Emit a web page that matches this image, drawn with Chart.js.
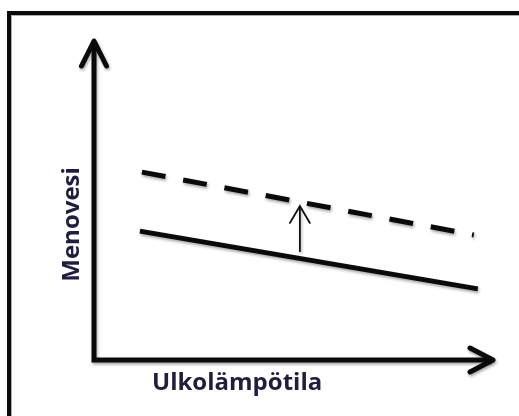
<!DOCTYPE html>
<html>
<head>
<meta charset="utf-8">
<script src="https://cdn.jsdelivr.net/npm/chart.js@4"></script>
<style>
  html, body { margin: 0; padding: 0; background: #ffffff; }
  #wrap { width: 519px; height: 416px; position: relative; }
</style>
</head>
<body>
<div id="wrap"><canvas id="c" width="519" height="416"></canvas></div>
<script>
// ---- data (conceptual heating curve chart) ----
const xLimits = [0, 100];          // outdoor temperature axis range (arbitrary units)
const yLimits = [0, 100];          // supply water axis range (arbitrary units)
const baseX   = [11.5, 96.2];      // solid heating curve
const baseY   = [40.4, 22.3];
const raisedX = [12.0, 95.2];      // dashed raised heating curve
const raisedY = [58.9, 39.2];
const shiftX  = [51.6, 51.6];      // small arrow showing the shift
const shiftY  = [33.9, 48.3];
const xTitle  = 'Ulkolämpötila';
const yTitle  = 'Menovesi';

const toPts = (xs, ys) => xs.map((x, i) => ({ x: x, y: ys[i] }));

function chevron(ctx, tipX, tipY, dirX, dirY, back, half) {
  // open arrowhead pointing in direction (dirX, dirY)
  const px = -dirY, py = dirX;
  ctx.beginPath();
  ctx.moveTo(tipX - dirX * back + px * half, tipY - dirY * back + py * half);
  ctx.lineTo(tipX, tipY);
  ctx.lineTo(tipX - dirX * back - px * half, tipY - dirY * back - py * half);
  ctx.stroke();
}

const decor = {
  id: 'decor',
  beforeDraw(chart) {
    const ctx = chart.ctx;
    ctx.save();
    ctx.fillStyle = '#ffffff';
    ctx.fillRect(0, 0, chart.width, chart.height);
    // outer frame (continues past the right and bottom edges)
    ctx.strokeStyle = '#0a0a0a';
    ctx.lineWidth = 4;
    ctx.strokeRect(9, 13, chart.width + 20, chart.height + 20);
    ctx.strokeStyle = 'rgba(120,120,120,0.6)';
    ctx.lineWidth = 1;
    ctx.beginPath();
    ctx.moveTo(11.5, chart.height + 5); ctx.lineTo(11.5, 15.5); ctx.lineTo(chart.width + 5, 15.5);
    ctx.stroke();
    ctx.restore();
  },
  beforeDatasetsDraw(chart) {
    const ctx = chart.ctx;
    const xs = chart.scales.x, ys = chart.scales.y;
    const x0 = xs.getPixelForValue(xLimits[0]), x1 = xs.getPixelForValue(xLimits[1]);
    const y0 = ys.getPixelForValue(yLimits[0]), y1 = ys.getPixelForValue(yLimits[1]);
    ctx.save();
    ctx.shadowColor = 'rgba(0,0,0,0.35)';
    ctx.shadowBlur = 3;
    ctx.shadowOffsetX = 1;
    ctx.shadowOffsetY = 2;
    ctx.strokeStyle = '#0a0a0a';
    ctx.lineWidth = 5;
    ctx.lineCap = 'butt';
    ctx.lineJoin = 'miter';
    // axes
    ctx.beginPath();
    ctx.moveTo(x0, y1 + 2);
    ctx.lineTo(x0, y0);
    ctx.lineTo(x1 - 2, y0);
    ctx.stroke();
    ctx.lineCap = 'round';
    ctx.lineJoin = 'round';
    chevron(ctx, x0, y1, 0, -1, 25, 12.5);
    chevron(ctx, x1, y0, 1, 0, 23, 12);
    ctx.restore();
    // shadow for data lines
    ctx.save();
    ctx.shadowColor = 'rgba(0,0,0,0.35)';
    ctx.shadowBlur = 3;
    ctx.shadowOffsetX = 1;
    ctx.shadowOffsetY = 2;
  },
  afterDatasetsDraw(chart) {
    const ctx = chart.ctx;
    ctx.restore();
    // arrowhead on the shift arrow
    const meta = chart.getDatasetMeta(2);
    const tip = meta.data[meta.data.length - 1];
    ctx.save();
    ctx.strokeStyle = '#111111';
    ctx.lineWidth = 1.8;
    ctx.lineCap = 'round';
    chevron(ctx, tip.x, tip.y, 0, -1, 17, 10);
    ctx.restore();
    // axis titles
    const xs = chart.scales.x, ys = chart.scales.y;
    const x0 = xs.getPixelForValue(xLimits[0]);
    const y0 = ys.getPixelForValue(yLimits[0]);
    ctx.save();
    ctx.fillStyle = '#1e1e3e';
    ctx.font = 'bold 24px "Open Sans", "DejaVu Sans", sans-serif';
    ctx.textBaseline = 'alphabetic';
    ctx.textAlign = 'left';
    ctx.fillText(xTitle, x0 + 58, y0 + 30);
    ctx.translate(x0 - 15, ys.getPixelForValue(42.5));
    ctx.rotate(-Math.PI / 2);
    ctx.textAlign = 'center';
    ctx.fillText(yTitle, 0, 0);
    ctx.restore();
  }
};

new Chart(document.getElementById('c'), {
  type: 'scatter',
  data: {
    datasets: [
      { label: 'Lämpökäyrä', data: toPts(baseX, baseY), showLine: true,
        borderColor: '#0a0a0a', borderWidth: 5, pointRadius: 0, borderCapStyle: 'butt', fill: false },
      { label: 'Nostettu lämpökäyrä', data: toPts(raisedX, raisedY), showLine: true,
        borderColor: '#0a0a0a', borderWidth: 5, borderDash: [24, 18], pointRadius: 0, borderCapStyle: 'butt', fill: false },
      { label: 'Nosto', data: toPts(shiftX, shiftY), showLine: true,
        borderColor: '#111111', borderWidth: 1.8, pointRadius: 0, fill: false }
    ]
  },
  options: {
    responsive: false,
    animation: false,
    devicePixelRatio: 1,
    layout: { padding: { left: 94, right: 26, top: 41, bottom: 56 } },
    scales: {
      x: { type: 'linear', min: xLimits[0], max: xLimits[1], display: false },
      y: { type: 'linear', min: yLimits[0], max: yLimits[1], display: false }
    },
    plugins: { legend: { display: false }, tooltip: { enabled: false } }
  },
  plugins: [decor]
});
</script>
</body>
</html>
